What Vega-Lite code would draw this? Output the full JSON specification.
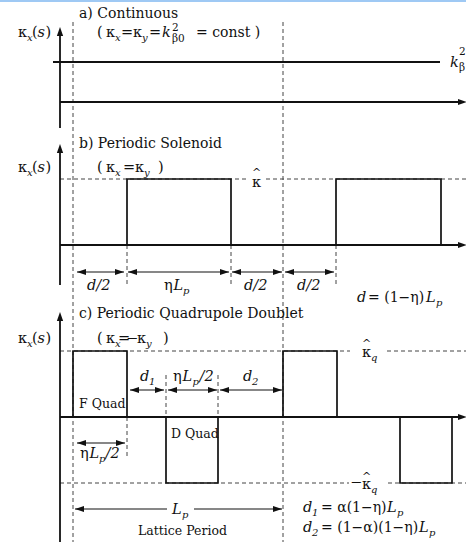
{
  "$schema": "https://vega.github.io/schema/vega-lite/v6.json",
  "width": 466,
  "height": 542,
  "autosize": {"type": "none"},
  "padding": 0,
  "config": {"view": {"stroke": null}},
  "datasets": {
    "bar": [{"x": 0, "x2": 466, "y": 0, "y2": 2}],
    "solid": [
      {"x": 60, "y": 30, "x2": 60, "y2": 128},
      {"x": 53, "y": 62, "x2": 440, "y2": 62},
      {"x": 60, "y": 102, "x2": 462, "y2": 102},
      {"x": 60, "y": 148, "x2": 60, "y2": 285},
      {"x": 60, "y": 245, "x2": 462, "y2": 245},
      {"x": 60, "y": 316, "x2": 60, "y2": 542},
      {"x": 60, "y": 417, "x2": 462, "y2": 417}
    ],
    "dashed": [
      {"x": 73, "y": 22, "x2": 73, "y2": 542},
      {"x": 283, "y": 22, "x2": 283, "y2": 542},
      {"x": 60, "y": 179, "x2": 247, "y2": 179},
      {"x": 266, "y": 179, "x2": 466, "y2": 179},
      {"x": 127, "y": 245, "x2": 127, "y2": 286},
      {"x": 231, "y": 245, "x2": 231, "y2": 286},
      {"x": 336, "y": 245, "x2": 336, "y2": 286},
      {"x": 60, "y": 351, "x2": 350, "y2": 351},
      {"x": 387, "y": 351, "x2": 466, "y2": 351},
      {"x": 60, "y": 483, "x2": 349, "y2": 483},
      {"x": 388, "y": 483, "x2": 466, "y2": 483},
      {"x": 127, "y": 417, "x2": 127, "y2": 456},
      {"x": 166, "y": 375, "x2": 166, "y2": 417},
      {"x": 218, "y": 375, "x2": 218, "y2": 417}
    ],
    "rects": [
      {"x": 127, "x2": 231, "y": 179, "y2": 245},
      {"x": 336, "x2": 441, "y": 179, "y2": 245},
      {"x": 73, "x2": 127, "y": 351, "y2": 417},
      {"x": 283, "x2": 337, "y": 351, "y2": 417},
      {"x": 166, "x2": 218, "y": 417, "y2": 483},
      {"x": 400, "x2": 452, "y": 417, "y2": 483}
    ],
    "shafts": [
      {"x": 77, "x2": 124, "y": 272, "y2": 272},
      {"x": 128, "x2": 229, "y": 272, "y2": 272},
      {"x": 232, "x2": 282, "y": 272, "y2": 272},
      {"x": 285, "x2": 334, "y": 272, "y2": 272},
      {"x": 130, "x2": 164, "y": 390, "y2": 390},
      {"x": 168, "x2": 217, "y": 390, "y2": 390},
      {"x": 220, "x2": 282, "y": 390, "y2": 390},
      {"x": 77, "x2": 125, "y": 443, "y2": 443},
      {"x": 75, "x2": 167, "y": 509, "y2": 509},
      {"x": 194, "x2": 282, "y": 509, "y2": 509}
    ],
    "heads": [
      {"x": 60, "y": 27, "dir": "up"},
      {"x": 60, "y": 144, "dir": "up"},
      {"x": 60, "y": 312, "dir": "up"},
      {"x": 467, "y": 102, "dir": "right"},
      {"x": 467, "y": 245, "dir": "right"},
      {"x": 467, "y": 417, "dir": "right"},
      {"x": 77, "y": 272, "dir": "left"},
      {"x": 124, "y": 272, "dir": "right"},
      {"x": 128, "y": 272, "dir": "left"},
      {"x": 229, "y": 272, "dir": "right"},
      {"x": 232, "y": 272, "dir": "left"},
      {"x": 282, "y": 272, "dir": "right"},
      {"x": 285, "y": 272, "dir": "left"},
      {"x": 334, "y": 272, "dir": "right"},
      {"x": 130, "y": 390, "dir": "left"},
      {"x": 164, "y": 390, "dir": "right"},
      {"x": 168, "y": 390, "dir": "left"},
      {"x": 217, "y": 390, "dir": "right"},
      {"x": 220, "y": 390, "dir": "left"},
      {"x": 282, "y": 390, "dir": "right"},
      {"x": 77, "y": 443, "dir": "left"},
      {"x": 125, "y": 443, "dir": "right"},
      {"x": 75, "y": 509, "dir": "left"},
      {"x": 282, "y": 509, "dir": "right"}
    ],
    "titles": [
      {"x": 79, "y": 18, "t": "a) Continuous"},
      {"x": 79, "y": 148, "t": "b) Periodic Solenoid"},
      {"x": 79, "y": 318, "t": "c) Periodic Quadrupole Doublet"}
    ],
    "reg": [
      {"x": 18, "y": 37, "t": "κ"}, {"x": 32, "y": 37, "t": "("}, {"x": 45.5, "y": 37, "t": ")"},
      {"x": 18, "y": 172, "t": "κ"}, {"x": 32, "y": 172, "t": "("}, {"x": 45.5, "y": 172, "t": ")"},
      {"x": 18, "y": 343, "t": "κ"}, {"x": 32, "y": 343, "t": "("}, {"x": 45.5, "y": 343, "t": ")"},
      {"x": 97, "y": 37, "t": "("}, {"x": 106, "y": 37, "t": "κ"}, {"x": 121, "y": 37, "t": "="},
      {"x": 133, "y": 37, "t": "κ"}, {"x": 149, "y": 37, "t": "="},
      {"x": 97, "y": 172, "t": "("}, {"x": 106, "y": 172, "t": "κ"}, {"x": 123, "y": 172, "t": "="},
      {"x": 135, "y": 172, "t": "κ"}, {"x": 158, "y": 172, "t": ")"},
      {"x": 97, "y": 343, "t": "("}, {"x": 106, "y": 343, "t": "κ"}, {"x": 118, "y": 343, "t": "="},
      {"x": 126, "y": 343, "t": "−"}, {"x": 137, "y": 343, "t": "κ"}, {"x": 163, "y": 343, "t": ")"},
      {"x": 252, "y": 187, "t": "κ"},
      {"x": 164, "y": 290, "t": "η"},
      {"x": 362, "y": 357, "t": "κ"},
      {"x": 350, "y": 487, "t": "−"}, {"x": 362, "y": 489, "t": "κ"},
      {"x": 173, "y": 381, "t": "η"},
      {"x": 80, "y": 458, "t": "η"}
    ],
    "eqs": [
      {"x": 196, "y": 37, "t": "= const )"},
      {"x": 368, "y": 302, "t": "= (1−η)"},
      {"x": 321, "y": 512, "t": "= α(1−η)"},
      {"x": 321, "y": 532, "t": "= (1−α)(1−η)"}
    ],
    "ital": [
      {"x": 37.5, "y": 37, "t": "s"}, {"x": 37.5, "y": 172, "t": "s"}, {"x": 37.5, "y": 343, "t": "s"},
      {"x": 162, "y": 37, "t": "k"}, {"x": 450, "y": 67, "t": "k"},
      {"x": 87, "y": 290, "t": "d/2"}, {"x": 244, "y": 290, "t": "d/2"}, {"x": 297, "y": 290, "t": "d/2"},
      {"x": 173.5, "y": 290, "t": "L"},
      {"x": 357, "y": 302, "t": "d"}, {"x": 426, "y": 302, "t": "L"},
      {"x": 140, "y": 381, "t": "d"}, {"x": 182.5, "y": 381, "t": "L"}, {"x": 199.5, "y": 381, "t": "/2"},
      {"x": 243, "y": 381, "t": "d"},
      {"x": 89.5, "y": 458, "t": "L"}, {"x": 105.5, "y": 458, "t": "/2"},
      {"x": 172, "y": 514, "t": "L"},
      {"x": 303, "y": 512, "t": "d"}, {"x": 387, "y": 512, "t": "L"},
      {"x": 303, "y": 532, "t": "d"}, {"x": 419, "y": 532, "t": "L"}
    ],
    "subI": [
      {"x": 27, "y": 41, "t": "x"}, {"x": 27, "y": 176, "t": "x"}, {"x": 27, "y": 347, "t": "x"},
      {"x": 115, "y": 41, "t": "x"}, {"x": 142, "y": 41, "t": "y"},
      {"x": 115, "y": 176, "t": "x"}, {"x": 144, "y": 176, "t": "y"},
      {"x": 115, "y": 347, "t": "x"}, {"x": 146, "y": 347, "t": "y"},
      {"x": 183, "y": 294, "t": "p"},
      {"x": 436, "y": 306, "t": "p"},
      {"x": 371, "y": 361, "t": "q"}, {"x": 371, "y": 493, "t": "q"},
      {"x": 149, "y": 385, "t": "1"}, {"x": 192.5, "y": 385, "t": "p"}, {"x": 252, "y": 385, "t": "2"},
      {"x": 99, "y": 462, "t": "p"},
      {"x": 182, "y": 518, "t": "p"},
      {"x": 312, "y": 516, "t": "1"}, {"x": 397, "y": 516, "t": "p"},
      {"x": 312, "y": 536, "t": "2"}, {"x": 429, "y": 536, "t": "p"}
    ],
    "subR": [
      {"x": 172, "y": 31, "t": "2"}, {"x": 172, "y": 42, "t": "β0"},
      {"x": 459, "y": 55, "t": "2"}, {"x": 459, "y": 71, "t": "β"}
    ],
    "small": [
      {"x": 79, "y": 408, "t": "F Quad"},
      {"x": 171, "y": 438, "t": "D Quad"},
      {"x": 138, "y": 535, "t": "Lattice Period"}
    ],
    "hats": [
      {"x": 256.5, "y": 176, "t": "^"},
      {"x": 366.5, "y": 347, "t": "^"},
      {"x": 366.5, "y": 480, "t": "^"}
    ]
  },
  "encoding": {
    "x": {"field": "x", "type": "quantitative", "axis": null, "scale": {"domain": [0, 466], "nice": false, "zero": false}},
    "y": {"field": "y", "type": "quantitative", "axis": null, "scale": {"domain": [0, 542], "reverse": true, "nice": false, "zero": false}}
  },
  "layer": [
    {"data": {"name": "bar"}, "mark": {"type": "rect", "color": "#9fc9f4"},
     "encoding": {"x2": {"field": "x2"}, "y2": {"field": "y2"}}},
    {"data": {"name": "dashed"}, "mark": {"type": "rule", "color": "#444444", "strokeWidth": 1, "strokeDash": [4, 3]},
     "encoding": {"x2": {"field": "x2"}, "y2": {"field": "y2"}}},
    {"data": {"name": "rects"}, "mark": {"type": "rect", "fill": "transparent", "stroke": "#111111", "strokeWidth": 1.7},
     "encoding": {"x2": {"field": "x2"}, "y2": {"field": "y2"}}},
    {"data": {"name": "solid"}, "mark": {"type": "rule", "color": "#111111", "strokeWidth": 1.8},
     "encoding": {"x2": {"field": "x2"}, "y2": {"field": "y2"}}},
    {"data": {"name": "shafts"}, "mark": {"type": "rule", "color": "#111111", "strokeWidth": 1.2},
     "encoding": {"x2": {"field": "x2"}, "y2": {"field": "y2"}}},
    {"data": {"name": "heads"}, "mark": {"type": "point", "filled": true, "color": "#111111", "opacity": 1, "size": 81, "strokeWidth": 0},
     "encoding": {"shape": {"field": "dir", "type": "nominal", "legend": null,
       "scale": {"domain": ["right", "left", "up"], "range": ["M0,0L-2,-0.66L-2,0.66Z", "M0,0L2,-0.66L2,0.66Z", "M0,0L-0.7,2L0.7,2Z"]}}}},
    {"data": {"name": "titles"}, "mark": {"type": "text", "align": "left", "baseline": "alphabetic", "font": "DejaVu Serif", "fontSize": 14, "color": "#111111"},
     "encoding": {"text": {"field": "t"}}},
    {"data": {"name": "reg"}, "mark": {"type": "text", "align": "left", "baseline": "alphabetic", "font": "DejaVu Serif", "fontSize": 14.5, "color": "#111111"},
     "encoding": {"text": {"field": "t"}}},
    {"data": {"name": "eqs"}, "mark": {"type": "text", "align": "left", "baseline": "alphabetic", "font": "DejaVu Serif", "fontSize": 14, "color": "#111111"},
     "encoding": {"text": {"field": "t"}}},
    {"data": {"name": "ital"}, "mark": {"type": "text", "align": "left", "baseline": "alphabetic", "font": "DejaVu Serif", "fontStyle": "italic", "fontSize": 14.5, "color": "#111111"},
     "encoding": {"text": {"field": "t"}}},
    {"data": {"name": "subI"}, "mark": {"type": "text", "align": "left", "baseline": "alphabetic", "font": "DejaVu Serif", "fontStyle": "italic", "fontSize": 10, "color": "#111111"},
     "encoding": {"text": {"field": "t"}}},
    {"data": {"name": "subR"}, "mark": {"type": "text", "align": "left", "baseline": "alphabetic", "font": "DejaVu Serif", "fontSize": 10.5, "color": "#111111"},
     "encoding": {"text": {"field": "t"}}},
    {"data": {"name": "small"}, "mark": {"type": "text", "align": "left", "baseline": "alphabetic", "font": "DejaVu Serif", "fontSize": 12.5, "color": "#111111"},
     "encoding": {"text": {"field": "t"}}},
    {"data": {"name": "hats"}, "mark": {"type": "text", "align": "center", "baseline": "alphabetic", "font": "DejaVu Serif", "fontSize": 11, "color": "#111111"},
     "encoding": {"text": {"field": "t"}}}
  ]
}
